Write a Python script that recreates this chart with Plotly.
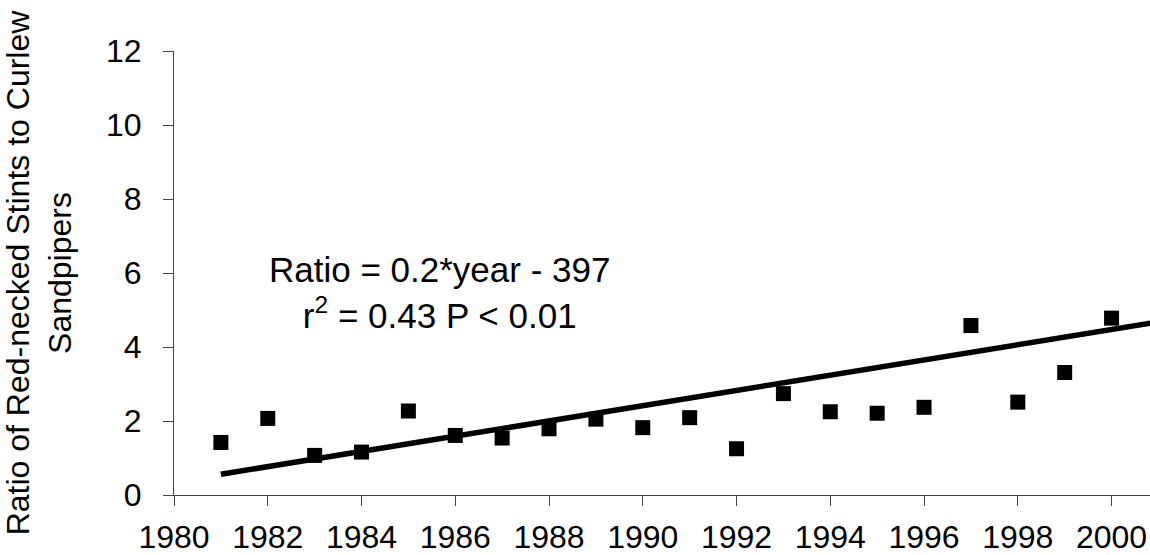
import plotly.graph_objects as go

years = [1981, 1982, 1983, 1984, 1985, 1986, 1987, 1988, 1989, 1990,
         1991, 1992, 1993, 1994, 1995, 1996, 1997, 1998, 1999, 2000]
ratio = [1.42, 2.07, 1.07, 1.16, 2.27, 1.61, 1.54, 1.79, 2.05, 1.82,
         2.09, 1.25, 2.74, 2.25, 2.21, 2.37, 4.58, 2.51, 3.31, 4.78]

trend_years = [1981, 2001]
trend_values = [0.56, 4.68]

x_ticks = list(range(1980, 2001, 2))
y_ticks = [0, 2, 4, 6, 8, 10, 12]

FONT = "Liberation Sans, Arial, sans-serif"

fig = go.Figure()
fig.add_trace(go.Scatter(
    x=years, y=ratio, mode="markers",
    marker=dict(symbol="square", size=15, color="black", line=dict(width=0)),
    showlegend=False, cliponaxis=False,
))
fig.add_trace(go.Scatter(
    x=trend_years, y=trend_values, mode="lines",
    line=dict(color="black", width=5.5),
    showlegend=False,
))

fig.add_annotation(
    x=1985.67, y=5.47, xref="x", yref="y",
    text="Ratio = 0.2*year - 397<br>r<sup>2</sup> = 0.43 P &lt; 0.01",
    showarrow=False, align="center",
    font=dict(family=FONT, size=35, color="black"),
)

fig.update_layout(
    width=1150, height=555,
    margin=dict(l=174, r=0, t=51, b=54),
    paper_bgcolor="white", plot_bgcolor="white",
    font=dict(family=FONT, color="black"),
    xaxis=dict(
        range=[1980, 2000.82], tickvals=x_ticks, ticktext=[str(v) for v in x_ticks],
        showgrid=False, zeroline=False, showline=True, linecolor="#444", linewidth=1,
        ticks="outside", ticklen=10, tickcolor="#444", tickwidth=1,
        tickfont=dict(size=32, family=FONT, color="black"), ticklabelstandoff=4,
    ),
    yaxis=dict(
        range=[0, 12], tickvals=y_ticks,
        showgrid=False, zeroline=False, showline=True, linecolor="#444", linewidth=1,
        ticks="outside", ticklen=10, tickcolor="#444", tickwidth=1,
        tickfont=dict(size=32, family=FONT, color="black"), ticklabelstandoff=15,
        title=dict(text="Ratio of Red-necked Stints to Curlew<br>Sandpipers",
                   font=dict(size=32, family=FONT, color="black"), standoff=30),
    ),
)

fig.write_html("out.html")
